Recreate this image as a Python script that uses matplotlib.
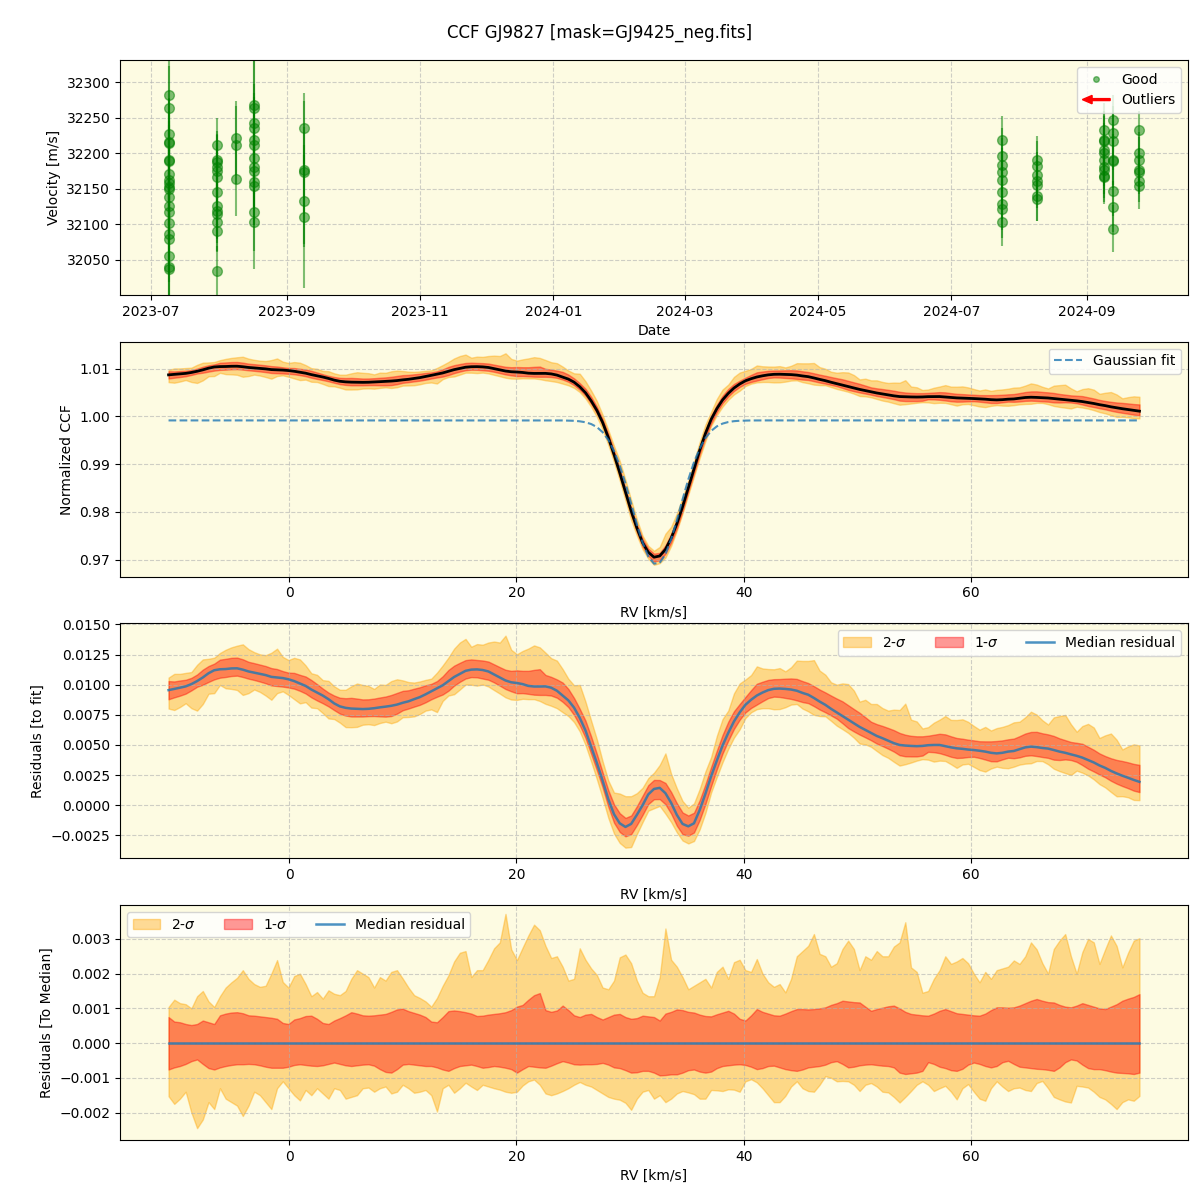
import numpy as np
import pandas as pd
import matplotlib
matplotlib.use('Agg')
import matplotlib.pyplot as plt
import matplotlib.patches as mpatches
from matplotlib.lines import Line2D
from matplotlib.legend_handler import HandlerPatch

# ---------------- RV time series (panel 1) ----------------
night_dates = ['2023-07-09', '2023-07-31', '2023-08-09', '2023-08-17', '2023-09-09',
               '2024-07-24', '2024-08-09', '2024-09-09', '2024-09-13', '2024-09-25']
night_vel = [
    [32282, 32263, 32227, 32216, 32215, 32190, 32189, 32171, 32163, 32158, 32153,
     32149, 32138, 32126, 32117, 32102, 32086, 32079, 32055, 32040, 32037],
    [32211, 32191, 32187, 32180, 32175, 32166, 32145, 32126, 32119, 32114, 32103, 32091, 32034],
    [32221, 32212, 32164],
    [32268, 32264, 32242, 32235, 32219, 32212, 32193, 32180, 32175, 32159, 32154, 32118, 32103],
    [32235, 32177, 32173, 32133, 32111],
    [32218, 32196, 32184, 32173, 32163, 32145, 32128, 32121, 32104],
    [32191, 32182, 32170, 32161, 32156, 32140, 32136],
    [32233, 32219, 32217, 32205, 32200, 32191, 32180, 32177, 32168, 32166],
    [32246, 32228, 32217, 32191, 32189, 32147, 32125, 32094],
    [32232, 32200, 32191, 32177, 32173, 32161, 32154],
]
night_err = [
    [55, 60, 50, 60, 45, 55, 50, 60, 55, 50, 55, 60, 55, 50, 55, 60, 55, 60, 60, 70, 55],
    [20, 58, 40, 45, 40, 42, 40, 45, 40, 40, 42, 28, 35],
    [52, 55, 52],
    [65, 70, 55, 50, 60, 55, 50, 55, 50, 60, 55, 55, 66],
    [50, 60, 100, 65, 100],
    [34, 40, 38, 35, 40, 38, 36, 40, 34],
    [33, 35, 32, 30, 33, 35, 31],
    [38, 40, 35, 38, 40, 37, 38, 40, 36, 38],
    [36, 38, 40, 36, 38, 35, 36, 33],
    [28, 30, 32, 30, 31, 30, 32],
]

# ---------------- CCF profiles (panels 2-4), RV grid -10.6 .. 74.8 km/s ----------------
rv = np.linspace(-10.6, 74.8, 171)

# median residual to the Gaussian fit, in units of 1e-3
resid_med = [
    9.55, 9.65, 9.75, 9.86, 10.05, 10.3, 10.6, 10.95, 11.2, 11.28,
    11.3, 11.35, 11.36, 11.25, 11.1, 11.0, 10.9, 10.8, 10.65, 10.6,
    10.55, 10.45, 10.3, 10.1, 9.9, 9.6, 9.35, 9.1, 8.8, 8.45,
    8.2, 8.08, 8.02, 8.0, 7.98, 8.0, 8.05, 8.12, 8.18, 8.25,
    8.35, 8.5, 8.62, 8.8, 8.97, 9.2, 9.45, 9.7, 9.95, 10.3,
    10.64, 10.9, 11.15, 11.25, 11.27, 11.22, 11.1, 10.85, 10.6, 10.35,
    10.2, 10.14, 10.05, 9.9, 9.85, 9.85, 9.86, 9.75, 9.5, 9.1,
    8.7, 8.1, 7.25, 6.2, 4.86, 3.5, 2.05, 0.5, -0.75, -1.5,
    -1.8, -1.55, -0.8, 0.0, 0.9, 1.35, 1.44, 1.0, 0.2, -0.8,
    -1.55, -1.75, -1.5, -0.4, 0.95, 2.4, 3.7, 4.95, 6.0, 6.95,
    7.7, 8.33, 8.75, 9.1, 9.35, 9.55, 9.66, 9.68, 9.65, 9.6,
    9.5, 9.32, 9.17, 8.9, 8.6, 8.33, 8.0, 7.7, 7.4, 7.1,
    6.8, 6.5, 6.25, 6.0, 5.75, 5.56, 5.35, 5.15, 5.0, 4.95,
    4.92, 4.9, 4.92, 4.98, 5.0, 5.0, 4.9, 4.8, 4.72, 4.68,
    4.62, 4.58, 4.52, 4.45, 4.35, 4.3, 4.35, 4.45, 4.5, 4.65,
    4.8, 4.86, 4.82, 4.75, 4.7, 4.58, 4.45, 4.35, 4.22, 4.1,
    3.95, 3.75, 3.55, 3.3, 3.1, 2.85, 2.64, 2.45, 2.28, 2.1,
    1.94,
]

# spread of the individual CCFs around the median (units of 1e-3)
sig2_hi = [
    1.04, 1.25, 1.15, 1.12, 1.0, 1.35, 1.5, 1.2, 1.04, 1.35,
    1.6, 1.75, 1.88, 2.1, 1.85, 1.7, 1.62, 1.65, 2.0, 2.39,
    1.76, 1.6, 1.93, 2.0, 1.7, 1.35, 1.47, 1.28, 1.52, 1.42,
    1.38, 1.5, 1.85, 2.1, 2.0, 1.9, 1.6, 1.9, 1.8, 2.05,
    2.1, 1.86, 1.6, 1.38, 1.3, 1.2, 1.05, 1.3, 1.65, 1.95,
    2.35, 2.6, 2.65, 1.9, 2.1, 2.1, 2.4, 2.73, 2.9, 3.72,
    2.7, 2.39, 2.75, 3.1, 3.41, 3.25, 2.8, 2.45, 2.5, 2.2,
    1.8, 1.85, 2.73, 2.4, 2.15, 1.96, 1.6, 1.55, 1.8, 2.47,
    2.55, 2.3, 1.8, 1.45, 1.35, 1.35, 1.9, 3.3, 2.4, 2.2,
    1.9, 1.55, 1.65, 1.75, 1.85, 1.6, 2.05, 2.2, 1.85, 2.33,
    2.4, 2.1, 2.05, 2.42, 2.0, 1.75, 1.62, 1.7, 1.46, 1.85,
    2.5, 2.65, 2.8, 3.14, 2.57, 2.5, 2.2, 2.3, 2.71, 2.95,
    2.71, 2.1, 2.5, 2.4, 2.65, 2.5, 2.5, 2.78, 2.9, 3.48,
    2.18, 2.05, 1.45, 1.5, 1.85, 2.1, 2.5, 2.28, 2.35, 2.45,
    2.3, 2.0, 1.75, 2.05, 1.85, 2.1, 2.15, 2.2, 2.38, 2.28,
    2.5, 2.9, 2.7, 2.3, 2.0, 2.71, 2.95, 3.14, 2.5, 2.0,
    2.62, 3.0, 2.9, 2.28, 2.7, 3.1, 2.8, 2.18, 2.6, 2.95,
    3.02,
]
sig2_lo = [
    -1.53, -1.75, -1.6, -1.4, -2.0, -2.45, -2.2, -1.7, -1.9, -1.3,
    -1.6, -1.7, -1.8, -2.1, -1.8, -1.4, -1.5, -1.7, -1.9, -1.3,
    -1.1, -1.3, -1.5, -1.65, -1.35, -1.5, -1.3, -1.45, -1.6, -1.3,
    -1.35, -1.6, -1.55, -1.5, -1.3, -1.28, -1.4, -1.3, -1.25, -1.45,
    -1.4, -1.2, -1.3, -1.43, -1.4, -1.35, -1.5, -1.97, -1.3, -1.2,
    -1.43, -1.3, -1.14, -1.25, -1.35, -1.2, -1.25, -1.3, -1.34, -1.4,
    -1.43, -1.4, -1.22, -1.1, -1.05, -1.2, -1.45, -1.5, -1.45, -1.38,
    -1.3, -1.2, -1.12, -1.2, -1.25, -1.35, -1.45, -1.55, -1.6, -1.63,
    -1.72, -1.92, -1.6, -1.4, -1.35, -1.6, -1.5, -1.7, -1.6, -1.45,
    -1.38, -1.42, -1.47, -1.6, -1.6, -1.35, -1.36, -1.38, -1.33, -1.34,
    -1.4, -1.1, -1.04, -1.13, -1.3, -1.5, -1.7, -1.7, -1.52, -1.25,
    -1.1, -1.3, -1.38, -1.4, -1.2, -0.95, -1.0, -1.1, -1.09, -1.1,
    -1.2, -1.38, -1.2, -1.15, -1.25, -1.4, -1.42, -1.55, -1.71, -1.55,
    -1.38, -1.2, -1.1, -1.2, -1.38, -1.3, -1.23, -1.4, -1.62, -1.3,
    -1.18, -1.4, -1.6, -1.66, -1.3, -1.1, -1.25, -1.38, -1.3, -1.28,
    -1.35, -1.38, -1.15, -1.09, -1.3, -1.55, -1.62, -1.68, -1.71, -1.23,
    -1.25, -1.28, -1.4, -1.55, -1.62, -1.75, -1.9, -1.7, -1.62, -1.66,
    -1.52,
]
sig1_hi = [
    0.75, 0.62, 0.6, 0.55, 0.52, 0.55, 0.65, 0.6, 0.55, 0.8,
    0.85, 0.88, 0.89, 0.86, 0.8, 0.79, 0.77, 0.75, 0.73, 0.7,
    0.58, 0.55, 0.68, 0.72, 0.78, 0.79, 0.7, 0.58, 0.55, 0.65,
    0.72, 0.8, 0.89, 0.85, 0.8, 0.79, 0.8, 0.82, 0.84, 0.9,
    0.97, 0.99, 0.92, 0.87, 0.82, 0.75, 0.62, 0.6, 0.75, 0.92,
    0.94, 0.92, 0.89, 0.85, 0.78, 0.79, 0.82, 0.84, 0.86, 0.89,
    0.95, 1.05, 1.1, 1.25, 1.38, 1.44, 0.95, 0.9, 0.94, 1.08,
    0.95, 0.8, 0.75, 0.82, 0.84, 0.75, 0.68, 0.75, 0.82, 0.84,
    0.75, 0.7, 0.72, 0.79, 0.77, 0.75, 0.65, 0.85, 0.9, 0.97,
    0.95, 0.9, 0.88, 0.82, 0.78, 0.77, 0.83, 0.88, 0.93, 0.85,
    0.7, 0.65, 0.8, 0.98, 0.9, 0.85, 0.8, 0.79, 0.85, 0.92,
    0.98, 0.98, 0.97, 0.98, 1.0, 1.03, 1.1, 1.15, 1.22, 1.2,
    1.18, 1.17, 1.05, 0.93, 0.98, 1.02, 1.06, 1.08, 1.0, 0.9,
    0.84, 0.82, 0.8, 0.79, 0.85, 0.93, 0.98, 0.92, 0.86, 0.84,
    0.82, 0.8, 0.79, 0.85, 0.95, 1.03, 1.03, 1.02, 1.03, 1.08,
    1.15, 1.22, 1.27, 1.22, 1.18, 1.17, 1.1, 1.05, 1.03, 1.08,
    1.15, 1.1, 1.05, 1.0, 0.98, 1.05, 1.12, 1.22, 1.28, 1.33,
    1.41,
]
sig1_lo = [
    -0.76, -0.7, -0.66, -0.6, -0.52, -0.47, -0.6, -0.72, -0.76, -0.7,
    -0.66, -0.63, -0.61, -0.61, -0.6, -0.61, -0.64, -0.68, -0.71, -0.71,
    -0.71, -0.68, -0.63, -0.61, -0.63, -0.65, -0.66, -0.64, -0.6, -0.56,
    -0.6, -0.64, -0.66, -0.64, -0.62, -0.61, -0.65, -0.75, -0.83, -0.85,
    -0.75, -0.62, -0.6, -0.62, -0.64, -0.66, -0.66, -0.7, -0.76, -0.8,
    -0.72, -0.66, -0.64, -0.62, -0.66, -0.71, -0.69, -0.66, -0.68, -0.71,
    -0.75, -0.85, -0.75, -0.66, -0.68, -0.7, -0.71, -0.65, -0.58, -0.52,
    -0.56, -0.61, -0.62, -0.61, -0.61, -0.6, -0.57, -0.62, -0.7, -0.72,
    -0.78, -0.85, -0.84, -0.8, -0.8, -0.85, -0.93, -0.92, -0.9, -0.9,
    -0.85, -0.78, -0.76, -0.82, -0.85, -0.82, -0.72, -0.66, -0.64, -0.62,
    -0.61, -0.63, -0.68, -0.75, -0.72, -0.66, -0.65, -0.7, -0.75, -0.78,
    -0.8, -0.76, -0.7, -0.68, -0.66, -0.62, -0.55, -0.52, -0.6, -0.7,
    -0.68, -0.64, -0.62, -0.61, -0.63, -0.65, -0.66, -0.7, -0.85, -0.89,
    -0.87, -0.85, -0.8, -0.55, -0.6, -0.68, -0.72, -0.78, -0.8, -0.74,
    -0.62, -0.56, -0.6, -0.66, -0.7, -0.66, -0.55, -0.51, -0.6, -0.68,
    -0.7, -0.72, -0.74, -0.75, -0.77, -0.8, -0.7, -0.55, -0.47, -0.5,
    -0.62, -0.72, -0.75, -0.75, -0.78, -0.82, -0.85, -0.86, -0.87, -0.89,
    -0.85,
]

# Gaussian fit to the median CCF (flat continuum outside the dip)
gauss_fit = ([0.99916] * 69 +
             [0.99915, 0.99912, 0.99908, 0.99897, 0.99877, 0.99840, 0.99776, 0.99670,
              0.99508, 0.99277, 0.98971, 0.98596, 0.98174, 0.97743, 0.97355, 0.97063,
              0.96914, 0.96931, 0.97111, 0.97426, 0.97827, 0.98261, 0.98676, 0.99039,
              0.99329, 0.99545, 0.99695, 0.99791, 0.99849, 0.99882, 0.99900, 0.99909,
              0.99913, 0.99915] +
             [0.99916] * 68)

bg = '#fdfbe2'

resid_med = np.array(resid_med) * 1e-3
s2h = np.array(sig2_hi) * 1e-3
s2l = np.array(sig2_lo) * 1e-3
s1h = np.array(sig1_hi) * 1e-3
s1l = np.array(sig1_lo) * 1e-3
gauss_fit = np.array(gauss_fit)
ccf_med = gauss_fit + resid_med


class ArrowHandler(HandlerPatch):
    def create_artists(self, legend, orig_handle, xdescent, ydescent,
                       width, height, fontsize, trans):
        y = -ydescent + height / 2
        arr = mpatches.FancyArrow(-xdescent + width, y, -width, 0, width=1.4,
                                  head_width=6, head_length=7,
                                  length_includes_head=True, color='red')
        arr.set_transform(trans)
        return [arr]


fig, axes = plt.subplots(4, 1, figsize=(12, 12))
fig.subplots_adjust(left=0.1, right=0.99, top=0.95, bottom=0.05, hspace=0.2)
fig.suptitle('CCF GJ9827 [mask=GJ9425_neg.fits]')

# panel 1: velocities
ax = axes[0]
for d, v, e in zip(night_dates, night_vel, night_err):
    t = pd.to_datetime([d] * len(v))
    ax.errorbar(t, v, yerr=e, fmt='o', color='green', alpha=0.5, ms=7, elinewidth=1.5)
good = Line2D([], [], marker='o', ls='none', color='green', alpha=0.5, ms=4, label='Good')
outl = mpatches.Patch(color='red', label='Outliers')
ax.legend(handles=[good, outl], loc='upper right', handler_map={outl: ArrowHandler()})
ax.set_ylim(32001, 32331)
ax.set_xlabel('Date')
ax.set_ylabel('Velocity [m/s]')

# panel 2: normalized CCF
ax = axes[1]
ax.fill_between(rv, ccf_med + s2l, ccf_med + s2h, color='orange', alpha=0.4)
ax.fill_between(rv, ccf_med + s1l, ccf_med + s1h, color='red', alpha=0.4)
ax.plot(rv, ccf_med, color='black', lw=2)
ax.plot(rv, gauss_fit, '--', color='C0', lw=1.5, alpha=0.8, label='Gaussian fit')
ax.set_ylim(0.96644, 1.01565)
ax.legend(loc='upper right')
ax.set_xlabel('RV [km/s]')
ax.set_ylabel('Normalized CCF')

# panel 3: residuals to fit
ax = axes[2]
ax.fill_between(rv, resid_med + s2l, resid_med + s2h, color='orange', alpha=0.4, label='2-$\\sigma$')
ax.fill_between(rv, resid_med + s1l, resid_med + s1h, color='red', alpha=0.4, label='1-$\\sigma$')
ax.plot(rv, resid_med, color='C0', lw=1.8, alpha=0.8, label='Median residual')
ax.set_ylim(-0.0044, 0.01508)
ax.legend(loc='upper right', ncol=3)
ax.set_xlabel('RV [km/s]')
ax.set_ylabel('Residuals [to fit]')

# panel 4: residuals to median
ax = axes[3]
ax.fill_between(rv, s2l, s2h, color='orange', alpha=0.4, label='2-$\\sigma$')
ax.fill_between(rv, s1l, s1h, color='red', alpha=0.4, label='1-$\\sigma$')
ax.plot(rv, np.zeros_like(rv), color='C0', lw=1.8, alpha=0.8, label='Median residual')
ax.set_ylim(-0.00279, 0.00397)
ax.legend(loc='upper left', ncol=3)
ax.set_xlabel('RV [km/s]')
ax.set_ylabel('Residuals [To Median]')

for ax in axes:
    ax.set_facecolor(bg)
    ax.grid(True, linestyle='--', alpha=0.6)

fig.savefig('out.png', dpi=100)
